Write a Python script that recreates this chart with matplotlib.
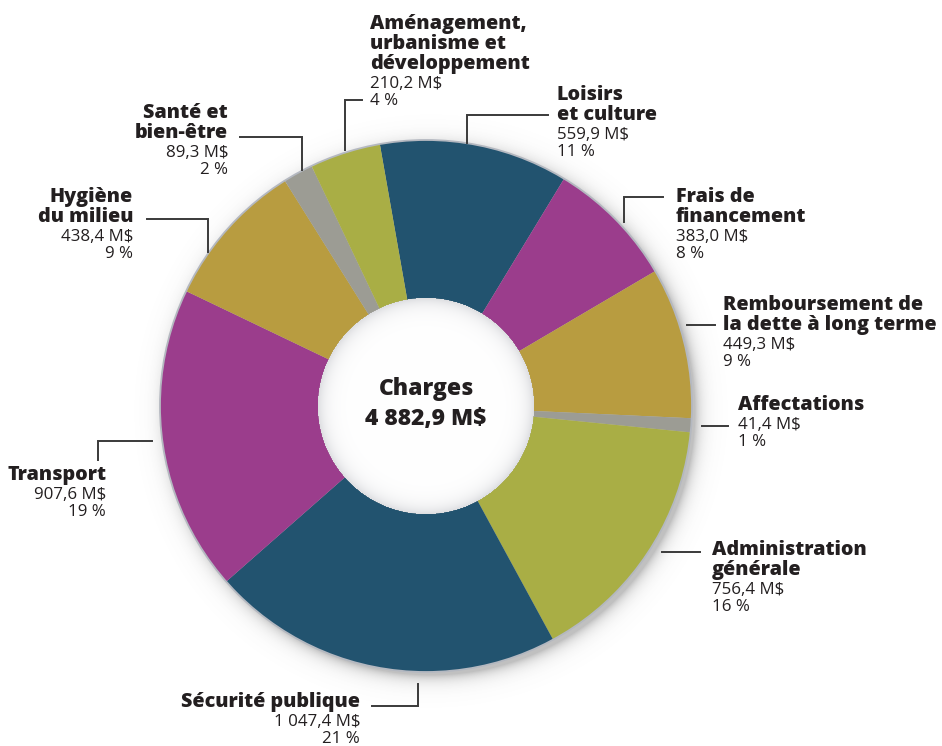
import numpy as np
import matplotlib
matplotlib.use("Agg")
import matplotlib.pyplot as plt
from matplotlib.patches import Circle

plt.rcParams['font.family'] = ['Open Sans', 'DejaVu Sans']

# Charges par activité (M$), clockwise from the top
names = ["Loisirs\net culture", "Frais de\nfinancement",
         "Remboursement de\nla dette à long terme", "Affectations",
         "Administration\ngénérale", "Sécurité publique", "Transport",
         "Hygiène\ndu milieu", "Santé et\nbien-être",
         "Aménagement,\nurbanisme et\ndéveloppement"]
values = [559.9, 383.0, 449.3, 41.4, 756.4, 1047.4, 907.6, 438.4, 89.3, 210.2]
pcts = [11, 8, 9, 1, 16, 21, 19, 9, 2, 4]
colors = ["#22536f", "#9b3d8c", "#b89c40", "#9c9c94", "#a9ae45",
          "#22536f", "#9b3d8c", "#b89c40", "#9c9c94", "#a9ae45"]
total = sum(values)

W, H = 942, 746
cx, cy, R, r_in = 426, 406, 266, 108
TXT = "#231f20"
BOLD = 800


def fmt(v):
    return f"{v:,.1f}".replace(",", " ").replace(".", ",")


fig = plt.figure(figsize=(W / 100, H / 100), dpi=100)
ax = fig.add_axes([0, 0, 1, 1])

# soft drop shadow around the ring
yy, xx = np.mgrid[0:H, 0:W] + 0.5
d_sh = np.hypot(xx - (cx + 5), yy - (cy + 5))
a_sh = np.where(d_sh > R - 2, 0.42 * np.exp(-(d_sh - (R - 2)) / 7.0), 0.42)
sh = np.zeros((H, W, 4))
sh[..., :3] = 0.42
sh[..., 3] = np.clip(a_sh, 0, 0.42)
ax.imshow(sh, extent=(0, W, H, 0), zorder=0, interpolation="bilinear")

# in inverted y, counterclock=True runs clockwise on screen
wedges, _ = ax.pie(values, colors=colors, startangle=-100, counterclock=True,
                   radius=R, center=(cx, cy),
                   wedgeprops=dict(width=R - r_in, linewidth=0))
for w in wedges:
    w.set_zorder(1)
ax.add_patch(Circle((cx, cy), R, facecolor="none", edgecolor="#b4b8c0",
                    linewidth=1.3, zorder=2))

# white hole with a faint inner shading
d_in = np.hypot(xx - cx, yy - cy)
hole = np.ones((H, W, 4))
shade = 0.30 * np.exp(-(r_in - d_in) / 8.0)
hole[..., :3] = (1 - shade)[..., None] * np.array([1, 1, 1]) + \
    shade[..., None] * np.array([0.55, 0.56, 0.60])
hole[..., 3] = np.where(d_in <= r_in, 1.0, 0.0)
ax.imshow(hole, extent=(0, W, H, 0), zorder=3, interpolation="bilinear")

ax.set_xlim(0, W)
ax.set_ylim(H, 0)
ax.set_aspect("equal")
ax.axis("off")

ax.text(cx, 395, "Charges", ha="center", va="baseline", fontsize=16.5,
        fontweight=BOLD, color=TXT, zorder=5)
ax.text(cx, 425, f"{fmt(total)} M$", ha="center", va="baseline",
        fontsize=16.5, fontweight=BOLD, color=TXT, zorder=5)

# label anchors: x, first baseline, alignment
label_pos = [(557, 100, "left"), (676, 202, "left"), (723, 310, "left"),
             (738, 410, "left"), (712, 555, "left"), (360, 707, "right"),
             (106, 480, "right"), (133, 202, "right"), (228, 118, "right"),
             (370, 29, "left")]

for name, v, p, (x, y, ha) in zip(names, values, pcts, label_pos):
    for line in name.split("\n"):
        ax.text(x, y, line, ha=ha, va="baseline", fontsize=14.2,
                fontweight=BOLD, color=TXT)
        y += 20
    y -= 1
    ax.text(x, y, f"{fmt(v)} M$", ha=ha, va="baseline", fontsize=12.2,
            color=TXT)
    ax.text(x, y + 17, f"{p} %", ha=ha, va="baseline", fontsize=12.2,
            color=TXT)

# leader lines
leaders = [
    [(467, 143), (467, 115), (548, 115)],
    [(624, 222), (624, 197), (663, 197)],
    [(687, 325), (715, 325)],
    [(702, 426), (728, 426)],
    [(662, 552), (700, 552)],
    [(418, 684), (418, 706), (372, 706)],
    [(152, 441), (98, 441), (98, 460)],
    [(147, 219), (208, 219), (208, 252)],
    [(240, 137), (302, 137), (302, 170)],
    [(345, 150), (345, 100), (362, 100)],
]
for pts in leaders:
    xs, ys = zip(*pts)
    ax.plot(xs, ys, color="#3a3a3a", linewidth=1.4, solid_joinstyle="miter",
            zorder=4)

fig.savefig("out.png", dpi=100, facecolor="white")
